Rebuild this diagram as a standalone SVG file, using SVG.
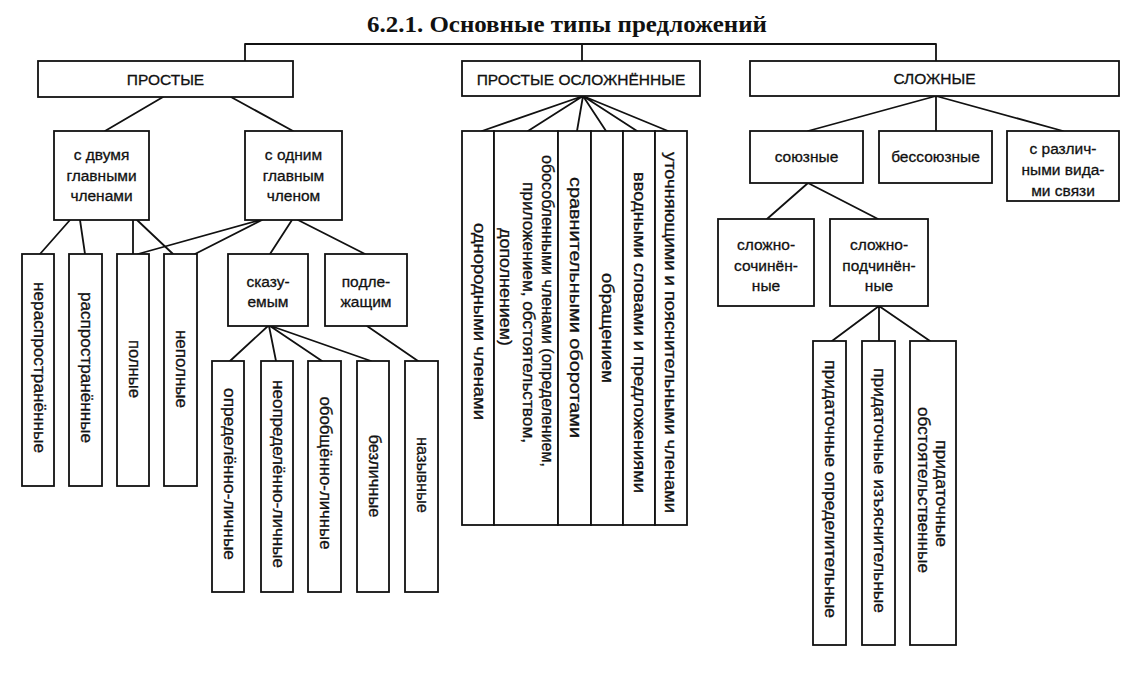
<svg xmlns="http://www.w3.org/2000/svg" width="1130" height="677" viewBox="0 0 1130 677">
<style>
.bx{fill:#fff;stroke:#111;stroke-width:1.8}
.ln{fill:none;stroke:#111;stroke-width:1.8;stroke-linecap:round}
.t{font-family:"Liberation Sans",Arial,sans-serif;font-size:15.5px;fill:#111;stroke:#111;stroke-width:0.3;text-anchor:middle}
.v{font-family:"Liberation Sans",Arial,sans-serif;font-size:16.5px;fill:#111;stroke:#111;stroke-width:0.3;text-anchor:middle}
.vs{font-family:"Liberation Sans",Arial,sans-serif;font-size:16.5px;fill:#111;stroke:#111;stroke-width:0.3;text-anchor:start}
.ttl{font-family:"Liberation Serif","Times New Roman",serif;font-size:23px;font-weight:bold;fill:#111}
</style>
<rect width="1130" height="677" fill="#fff"/>
<text class="ttl" x="367" y="32" textLength="400" lengthAdjust="spacingAndGlyphs">6.2.1. Основные типы предложений</text>

<g id="connectors">
<path class="ln" d="M245 44H936M245 44V61M582 44V61M936 44V61"/>
<path class="ln" d="M163 97L105 131M231 97L293 131"/>
<path class="ln" d="M70 220L40 254M80 220L85 254M133 220V254M137 220L173 254"/>
<path class="ln" d="M260 220L138 254M262 220L195 254M292 220L270 254M298 220L365 254"/>
<path class="ln" d="M268 326L230 361M269 326L276 361M270 326L322 361M271 326L371 361M367 326L418 361"/>
<path class="ln" d="M583 96L482 131M583 96L528 131M583 96L577 131M583 96L606 131M583 96L637 131M583 96L668 131"/>
<path class="ln" d="M936 96L808 131M936 96V131M936 96L1063 131"/>
<path class="ln" d="M808 183L767 219M808 183L878 219"/>
<path class="ln" d="M879 306L832 341M879 306V341M879 306L930 341"/>
</g>

<g id="n-prostye"><rect class="bx" x="38" y="61" width="255" height="36"/><text class="t" x="165.5" y="85">ПРОСТЫЕ</text></g>
<g id="n-oslozh"><rect class="bx" x="462" y="61" width="238" height="35"/><text class="t" x="581" y="85">ПРОСТЫЕ ОСЛОЖНЁННЫЕ</text></g>
<g id="n-slozhnye"><rect class="bx" x="750" y="61" width="369" height="35"/><text class="t" x="934.5" y="84">СЛОЖНЫЕ</text></g>

<g id="n-dvusost"><rect class="bx" x="54" y="131" width="95" height="89"/><text class="t" x="101.5" y="160">с двумя</text><text class="t" x="101.5" y="181">главными</text><text class="t" x="101.5" y="201">членами</text></g>
<g id="n-odnosost"><rect class="bx" x="245" y="131" width="97" height="89"/><text class="t" x="293.5" y="160">с одним</text><text class="t" x="293.5" y="181">главным</text><text class="t" x="293.5" y="201">членом</text></g>

<g id="n-nerasp"><rect class="bx" x="22" y="254" width="32" height="232"/><text class="v" transform="translate(33.5 367.5) rotate(90)" textLength="171" lengthAdjust="spacingAndGlyphs">нераспространённые</text></g>
<g id="n-rasp"><rect class="bx" x="69" y="254" width="33" height="232"/><text class="v" transform="translate(81 367.5) rotate(90)" textLength="151" lengthAdjust="spacingAndGlyphs">распространённые</text></g>
<g id="n-polnye"><rect class="bx" x="117" y="254" width="32" height="232"/><text class="v" transform="translate(128.5 369) rotate(90)" textLength="58" lengthAdjust="spacingAndGlyphs">полные</text></g>
<g id="n-nepolnye"><rect class="bx" x="164" y="254" width="33" height="232"/><text class="v" transform="translate(176 369) rotate(90)" textLength="78" lengthAdjust="spacingAndGlyphs">неполные</text></g>

<g id="n-skaz"><rect class="bx" x="228" y="254" width="80" height="72"/><text class="t" x="268" y="287">сказу-</text><text class="t" x="268" y="307">емым</text></g>
<g id="n-podl"><rect class="bx" x="325" y="254" width="82" height="72"/><text class="t" x="366" y="287">подле-</text><text class="t" x="366" y="307">жащим</text></g>

<g id="n-opr"><rect class="bx" x="212" y="361" width="32" height="231"/><text class="v" transform="translate(223.5 474) rotate(90)" textLength="172" lengthAdjust="spacingAndGlyphs">определённо-личные</text></g>
<g id="n-neopr"><rect class="bx" x="261" y="361" width="32" height="231"/><text class="v" transform="translate(272.5 474) rotate(90)" textLength="188" lengthAdjust="spacingAndGlyphs">неопределённо-личные</text></g>
<g id="n-obob"><rect class="bx" x="308" y="361" width="33" height="231"/><text class="v" transform="translate(320 473) rotate(90)" textLength="153" lengthAdjust="spacingAndGlyphs">обобщённо-личные</text></g>
<g id="n-bezl"><rect class="bx" x="357" y="361" width="32" height="231"/><text class="v" transform="translate(368.5 476) rotate(90)" textLength="83" lengthAdjust="spacingAndGlyphs">безличные</text></g>
<g id="n-nazyv"><rect class="bx" x="405" y="361" width="33" height="231"/><text class="v" transform="translate(417 475) rotate(90)" textLength="76" lengthAdjust="spacingAndGlyphs">назывные</text></g>

<g id="n-odnor"><rect class="bx" x="462" y="131" width="32" height="394"/><text class="v" transform="translate(474 321.5) rotate(90)" textLength="197" lengthAdjust="spacingAndGlyphs">однородными членами</text></g>
<g id="n-obos"><rect class="bx" x="494" y="131" width="64" height="394"/>
<text class="vs" transform="translate(541.5 155) rotate(90)" textLength="312" lengthAdjust="spacingAndGlyphs">обособленными членами (определением,</text>
<text class="vs" transform="translate(523 182) rotate(90)" textLength="261" lengthAdjust="spacingAndGlyphs">приложением, обстоятельством,</text>
<text class="vs" transform="translate(500 228) rotate(90)" textLength="118" lengthAdjust="spacingAndGlyphs">дополнением)</text></g>
<g id="n-sravn"><rect class="bx" x="558" y="131" width="33" height="394"/><text class="v" transform="translate(570 307.5) rotate(90)" textLength="261" lengthAdjust="spacingAndGlyphs">сравнительными оборотами</text></g>
<g id="n-obrasch"><rect class="bx" x="591" y="131" width="32" height="394"/><text class="v" transform="translate(602 328) rotate(90)" textLength="110" lengthAdjust="spacingAndGlyphs">обращением</text></g>
<g id="n-vvod"><rect class="bx" x="623" y="131" width="32" height="394"/><text class="v" transform="translate(634 332.5) rotate(90)" textLength="321" lengthAdjust="spacingAndGlyphs">вводными словами и предложениями</text></g>
<g id="n-utoch"><rect class="bx" x="655" y="131" width="32" height="394"/><text class="v" transform="translate(665 332.5) rotate(90)" textLength="361" lengthAdjust="spacingAndGlyphs">уточняющими и пояснительными членами</text></g>

<g id="n-souz"><rect class="bx" x="750" y="131" width="113" height="52"/><text class="t" x="806.5" y="161.5">союзные</text></g>
<g id="n-bessouz"><rect class="bx" x="879" y="131" width="113" height="52"/><text class="t" x="935.5" y="161.5">бессоюзные</text></g>
<g id="n-razl"><rect class="bx" x="1007" y="131" width="112" height="70"/><text class="t" x="1063" y="154">с различ-</text><text class="t" x="1063" y="175">ными вида-</text><text class="t" x="1063" y="196">ми связи</text></g>

<g id="n-sochin"><rect class="bx" x="718" y="219" width="96" height="87"/><text class="t" x="766" y="250">сложно-</text><text class="t" x="766" y="271">сочинён-</text><text class="t" x="766" y="291">ные</text></g>
<g id="n-podchin"><rect class="bx" x="830" y="219" width="98" height="87"/><text class="t" x="879" y="250">сложно-</text><text class="t" x="879" y="271">подчинён-</text><text class="t" x="879" y="291">ные</text></g>

<g id="n-opredel"><rect class="bx" x="813" y="341" width="33" height="304"/><text class="v" transform="translate(825 489) rotate(90)" textLength="258" lengthAdjust="spacingAndGlyphs">придаточные определительные</text></g>
<g id="n-izyasn"><rect class="bx" x="862" y="341" width="33" height="304"/><text class="v" transform="translate(874 490.5) rotate(90)" textLength="245" lengthAdjust="spacingAndGlyphs">придаточные изъяснительные</text></g>
<g id="n-obst"><rect class="bx" x="910" y="341" width="46" height="304"/><text class="v" transform="translate(935.5 493.5) rotate(90)" textLength="107" lengthAdjust="spacingAndGlyphs">придаточные</text><text class="v" transform="translate(917.5 490) rotate(90)" textLength="166" lengthAdjust="spacingAndGlyphs">обстоятельственные</text></g>
</svg>
